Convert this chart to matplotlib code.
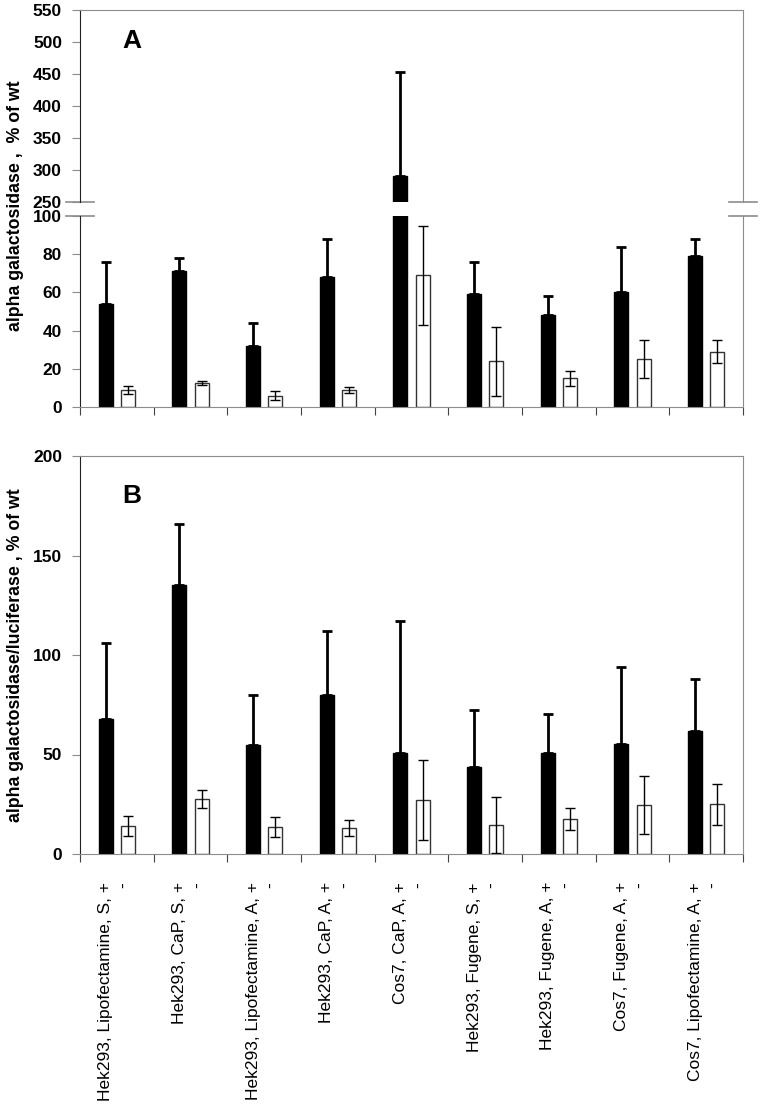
import numpy as np
import matplotlib
matplotlib.use('Agg')
from matplotlib import pyplot as plt
from matplotlib import transforms

plt.rcParams['font.family'] = ['Liberation Sans', 'DejaVu Sans']

# categories (transfection conditions)
labels_plus = ['Hek293, Lipofectamine, S, +', 'Hek293, CaP, S, +',
               'Hek293, Lipofectamine, A, +', 'Hek293, CaP, A, +',
               'Cos7, CaP, A, +', 'Hek293, Fugene, S, +',
               'Hek293, Fugene, A, +', 'Cos7, Fugene, A, +',
               'Cos7, Lipofectamine, A, +']
labels_minus = ['-'] * 9

# panel A: alpha galactosidase, % of wt
a_plus = [54, 71, 32, 68, 290, 59, 48, 60, 79]
a_plus_err = [22, 7, 12, 20, 163, 17, 10, 24, 9]
a_minus = [9, 12.5, 6, 9, 69, 24, 15, 25, 29]
a_minus_err = [2, 1, 2.3, 1.5, 26, 18, 4, 10, 6]

# panel B: alpha galactosidase/luciferase, % of wt
b_plus = [68, 135, 55, 80, 51, 43.5, 51, 55.5, 62]
b_plus_err = [38, 31, 25, 32, 66, 29, 19.5, 38.5, 26]
b_minus = [14, 27.5, 13.5, 13, 27, 14.5, 17.5, 24.5, 25]
b_minus_err = [5, 4.5, 5, 4, 20, 14, 5.4, 14.7, 10.4]

GRAY = '#8c8c8c'
n = len(labels_plus)
xb = np.arange(n) + 0.35
xw = np.arange(n) + 0.65
w = 0.19


def draw_bars(ax, plus, plus_err, minus, minus_err):
    ax.bar(xb, plus, w, color='black', edgecolor='black', linewidth=1)
    ax.bar(xw, minus, w, color='white', edgecolor='#333333', linewidth=1)
    ax.errorbar(xb, plus, yerr=[np.zeros(n), plus_err], fmt='none',
                ecolor='black', elinewidth=2, capsize=3.5, capthick=2)
    ax.errorbar(xw, minus, yerr=minus_err, fmt='none',
                ecolor='black', elinewidth=1, capsize=3.5, capthick=1)
    ax.set_xlim(0, n)
    ax.set_xticks(np.arange(n + 1))
    ax.set_xticklabels([])
    ax.tick_params(axis='x', direction='out', length=6, color='#444444')
    ax.tick_params(axis='y', direction='out', length=6, color=GRAY,
                   labelsize=12.5, pad=7)
    for s in ['top', 'right', 'bottom']:
        ax.spines[s].set_color(GRAY)
    ax.spines['left'].set_color('#222222')


fig = plt.figure(figsize=(7.61, 11.08), dpi=100)
L, W = 80 / 761, 663 / 761

ax_top = fig.add_axes([L, 1 - 202 / 1108, W, 192 / 1108])
ax_low = fig.add_axes([L, 1 - 407 / 1108, W, 191 / 1108])
ax_b = fig.add_axes([L, 1 - 854 / 1108, W, 398 / 1108])

draw_bars(ax_top, a_plus, a_plus_err, a_minus, a_minus_err)
draw_bars(ax_low, a_plus, a_plus_err, a_minus, a_minus_err)
draw_bars(ax_b, b_plus, b_plus_err, b_minus, b_minus_err)

ax_top.set_ylim(250, 550)
ax_top.set_yticks(np.arange(250, 551, 50))
ax_top.spines['bottom'].set_visible(False)
ax_top.tick_params(axis='x', length=0)
ax_low.set_ylim(0, 100)
ax_low.set_yticks(np.arange(0, 101, 20))
ax_low.spines['top'].set_visible(False)
ax_b.set_ylim(0, 200)
ax_b.set_yticks(np.arange(0, 201, 50))
for ax in (ax_top, ax_low, ax_b):
    for lab in ax.get_yticklabels():
        lab.set_fontweight('bold')

# axis break marks
d = 14 / 663
for x0 in (0, 1):
    ax_top.plot([x0 - d, x0 + d], [0, 0], transform=ax_top.transAxes,
                color=GRAY, lw=1.2, clip_on=False)
    ax_low.plot([x0 - d, x0 + d], [1, 1], transform=ax_low.transAxes,
                color=GRAY, lw=1.2, clip_on=False)

fig.text(16 / 761, 1 - 206 / 1108, 'alpha galactosidase ,  % of wt',
         rotation=90, ha='center', va='center', fontsize=12.8, fontweight='bold')
fig.text(16 / 761, 1 - 655 / 1108, 'alpha galactosidase/luciferase , % of wt',
         rotation=90, ha='center', va='center', fontsize=12.8, fontweight='bold')

fig.text(122 / 761, 1 - 41 / 1108, 'A', ha='left', va='center',
         fontsize=19, fontweight='bold')
fig.text(122 / 761, 1 - 496 / 1108, 'B', ha='left', va='center',
         fontsize=19, fontweight='bold')

# category labels under panel B
trans = transforms.blended_transform_factory(ax_b.transData, ax_b.transAxes)
ytop = -28 / 398
for i in range(n):
    ax_b.text(xb[i], ytop, labels_plus[i], rotation=90, ha='center', va='top',
              fontsize=12.5, transform=trans)
    ax_b.text(xw[i] - 0.06, ytop, labels_minus[i], rotation=90, ha='center',
              va='top', fontsize=12.5, transform=trans)

fig.savefig('out.png', dpi=100)
